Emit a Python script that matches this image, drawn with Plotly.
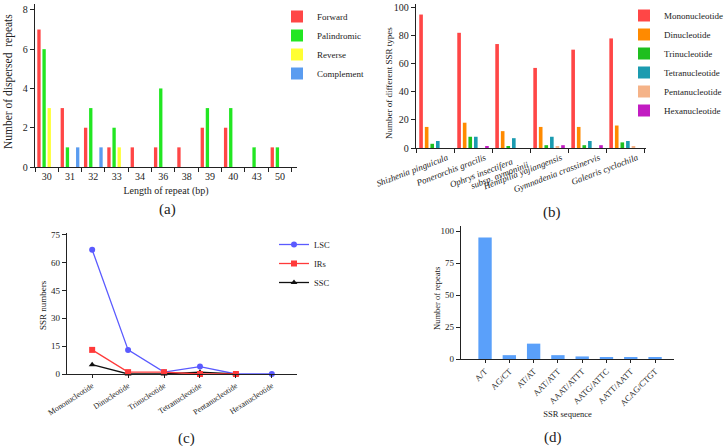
import plotly.graph_objects as go

# ---------------- data ----------------
# (a) dispersed repeats
a_lengths = ["30", "31", "32", "33", "34", "36", "38", "39", "40", "43", "50"]
a_forward = [7, 3, 2, 1, 1, 1, 1, 2, 2, 0, 1]
a_palindromic = [6, 1, 3, 2, 0, 4, 0, 3, 3, 1, 1]
a_reverse = [3, 0, 0, 1, 0, 0, 0, 0, 0, 0, 0]
a_complement = [0, 1, 1, 0, 0, 0, 0, 0, 0, 0, 0]

# (b) SSR types per species
b_species = ["Shizhenia pinguicula", "Ponerorchis gracilis",
             "Ophrys insectifera subsp. aymoninii", "Hemipilia yajiangensis",
             "Gymnadenia crassinervis", "Galearis cyclochila"]
b_ticktext = ["Shizhenia pinguicula", "Ponerorchis gracilis",
              "Ophrys insectifera<span style='color:rgba(0,0,0,0)'>xxx</span>",
              "Hemipilia yajiangensis", "Gymnadenia crassinervis", "Galearis cyclochila"]
b_subsp = "subsp. aymoninii"
b_mono = [95, 82, 74, 57, 70, 78]
b_di = [15, 18, 12, 15, 15, 16]
b_tri = [3, 8, 1, 2, 2, 4]
b_tetra = [5, 8, 7, 8, 5, 5]
b_penta = [0, 0, 0, 1, 0, 1]
b_hexa = [0, 1, 0, 2, 2, 0]

# (c) SSR numbers by region
c_types = ["Mononucleotide", "Dinucleotide", "Trinucleotide", "Tetranucleotide",
           "Pentanucleotide", "Hexanucleotide"]
c_lsc = [67, 13, 1, 4, 0, 0]
c_irs = [13, 1, 1, 0, 0, None]
c_ssc = [5, 0, 0, 1, 0, None]

# (d) SSR sequences
d_seq = ["A/T", "AG/CT", "AT/AT", "AAT/ATT", "AAAT/ATTT", "AATG/ATTC", "AATT/AATT", "ACAG/CTGT"]
d_repeats = [95, 3, 12, 3, 2, 1, 1, 1]

# ---------------- figure ----------------
W, H = 728, 446
FONT = "Liberation Serif"
INK = "#222"

def px(x):
    return x / W

def py(y):
    return 1 - y / H

fig = go.Figure()

a_cols = {"Forward": "#ff4646", "Palindromic": "#22e622", "Reverse": "#ffff33", "Complement": "#5a9cf0"}
for name, vals in [("Forward", a_forward), ("Palindromic", a_palindromic),
                   ("Reverse", a_reverse), ("Complement", a_complement)]:
    fig.add_trace(go.Bar(x=a_lengths, y=vals, name=name, marker_color=a_cols[name],
                         marker_line_width=0, xaxis="x", yaxis="y", legend="legend"))

b_cols = {"Mononucleotide": "#ff4646", "Dinucleotide": "#ff8a00", "Trinucleotide": "#1fbf1f",
          "Tetranucleotide": "#1b9bb0", "Pentanucleotide": "#f5b388", "Hexanucleotide": "#c21cc2"}
for name, vals in [("Mononucleotide", b_mono), ("Dinucleotide", b_di), ("Trinucleotide", b_tri),
                   ("Tetranucleotide", b_tetra), ("Pentanucleotide", b_penta), ("Hexanucleotide", b_hexa)]:
    fig.add_trace(go.Bar(x=b_species, y=vals, name=name, marker_color=b_cols[name],
                         marker_line_width=0, xaxis="x2", yaxis="y2", legend="legend2"))

for name, vals, col, sym, rank in [("LSC", c_lsc, "#5a5aff", "circle", 1),
                                   ("SSC", c_ssc, "#111111", "triangle-up", 3),
                                   ("IRs", c_irs, "#ff3a3a", "square", 2)]:
    fig.add_trace(go.Scatter(x=c_types, y=vals, name=name, mode="lines+markers",
                             line=dict(color=col, width=1.3), legendrank=rank,
                             marker=dict(color=col, symbol=sym, size=6),
                             cliponaxis=False, xaxis="x3", yaxis="y3", legend="legend3"))

fig.add_trace(go.Bar(x=d_seq, y=d_repeats, name="repeats", marker_color="#5aa0fa",
                     marker_line_width=0, width=0.55, showlegend=False, xaxis="x4", yaxis="y4"))

axis_common = dict(showline=True, linecolor=INK, linewidth=1.3, ticks="outside",
                   tickcolor=INK, tickwidth=1.2, ticklen=4, showgrid=False, zeroline=False,
                   automargin=False, tickfont=dict(family=FONT, size=10, color=INK),
                   title_font=dict(family=FONT, size=10, color=INK))

fig.update_layout(
    width=W, height=H, margin=dict(l=0, r=0, t=0, b=0),
    paper_bgcolor="white", plot_bgcolor="white", template="none",
    barmode="group", bargap=0.12, bargroupgap=0.35,
    font=dict(family=FONT, color=INK),
    xaxis=dict(axis_common, domain=[px(35), px(297)], anchor="y", type="category",
               range=[-0.5, 10.73], tickson="boundaries",
               title=dict(text="Length of repeat (bp)", standoff=5, font=dict(size=10))),
    yaxis=dict(axis_common, domain=[py(167), py(4)], anchor="x", range=[0, 8.3],
               tickvals=[0, 2, 4, 6, 8]),
    xaxis2=dict(axis_common, domain=[px(416), px(646)], anchor="y2", type="category",
                range=[-0.5, 5.55], tickson="boundaries", tickangle=-21, ticklabelshift=12,
                tickvals=b_species, ticktext=b_ticktext,
                tickfont=dict(family=FONT, size=9, style="italic", color=INK)),
    yaxis2=dict(axis_common, domain=[py(148), py(4)], anchor="x2", range=[0, 102.5],
                tickvals=[0, 20, 40, 60, 80, 100], tickfont=dict(family=FONT, size=10, color=INK)),
    xaxis3=dict(axis_common, domain=[px(67), px(297)], anchor="y3", type="category",
                range=[-0.7, 5.7], tickangle=-33, ticklen=3,
                tickfont=dict(family=FONT, size=8, color=INK)),
    yaxis3=dict(axis_common, domain=[py(374), py(233)], anchor="x3", range=[0, 76],
                tickvals=[0, 15, 30, 45, 60, 75], tickfont=dict(family=FONT, size=9, color=INK)),
    xaxis4=dict(axis_common, domain=[px(461), px(674)], anchor="y4", type="category",
                range=[-0.99, 7.78], tickangle=-45, ticklen=3,
                tickfont=dict(family=FONT, size=8.5, color=INK),
                title=dict(text="SSR sequence", standoff=4, font=dict(size=8.5))),
    yaxis4=dict(axis_common, domain=[py(359), py(226)], anchor="x4", range=[0, 104],
                tickvals=[0, 25, 50, 75, 100], tickfont=dict(family=FONT, size=9, color=INK)),
    legend=dict(x=px(277), y=py(2), xanchor="left", yanchor="top", bgcolor="rgba(0,0,0,0)",
                font=dict(family=FONT, size=9, color=INK), itemwidth=30),
    legend2=dict(x=px(624), y=py(1), xanchor="left", yanchor="top", bgcolor="rgba(0,0,0,0)",
                 font=dict(family=FONT, size=9, color=INK), itemwidth=30),
    legend3=dict(x=px(274), y=py(230), xanchor="left", yanchor="top", bgcolor="rgba(0,0,0,0)",
                 font=dict(family=FONT, size=8.5, color=INK), itemwidth=30),
)

# second line of the Ophrys tick label
fig.add_annotation(text=b_subsp, x=b_species[2], xref="x2", y=py(175), yref="paper",
                   xshift=-11, textangle=-21, xanchor="center", yanchor="middle", showarrow=False,
                   font=dict(family=FONT, size=9, style="italic", color=INK))

# rotated y-axis titles
for txt, x, y, sz in [("Number of dispersed  repeats", 9, 82, 11.5),
                      ("Number of different SSR types", 389, 83, 9),
                      ("SSR numbers", 43, 305, 9),
                      ("Number of repeats", 437, 299, 8.5)]:
    fig.add_annotation(text=txt, x=px(x), y=py(y), xref="paper", yref="paper", textangle=-90,
                       xanchor="center", yanchor="middle",
                       showarrow=False, font=dict(family=FONT, size=sz, color=INK))

for txt, x, y in [("(a)", 167, 209), ("(b)", 552, 213), ("(c)", 187, 438), ("(d)", 553, 437)]:
    fig.add_annotation(text=txt, x=px(x), y=py(y), xref="paper", yref="paper",
                       xanchor="center", yanchor="middle",
                       showarrow=False, font=dict(family=FONT, size=15, color=INK))

fig.write_html("out.html", config={"displayModeBar": False},
               post_script="document.body.style.margin='0px';")
